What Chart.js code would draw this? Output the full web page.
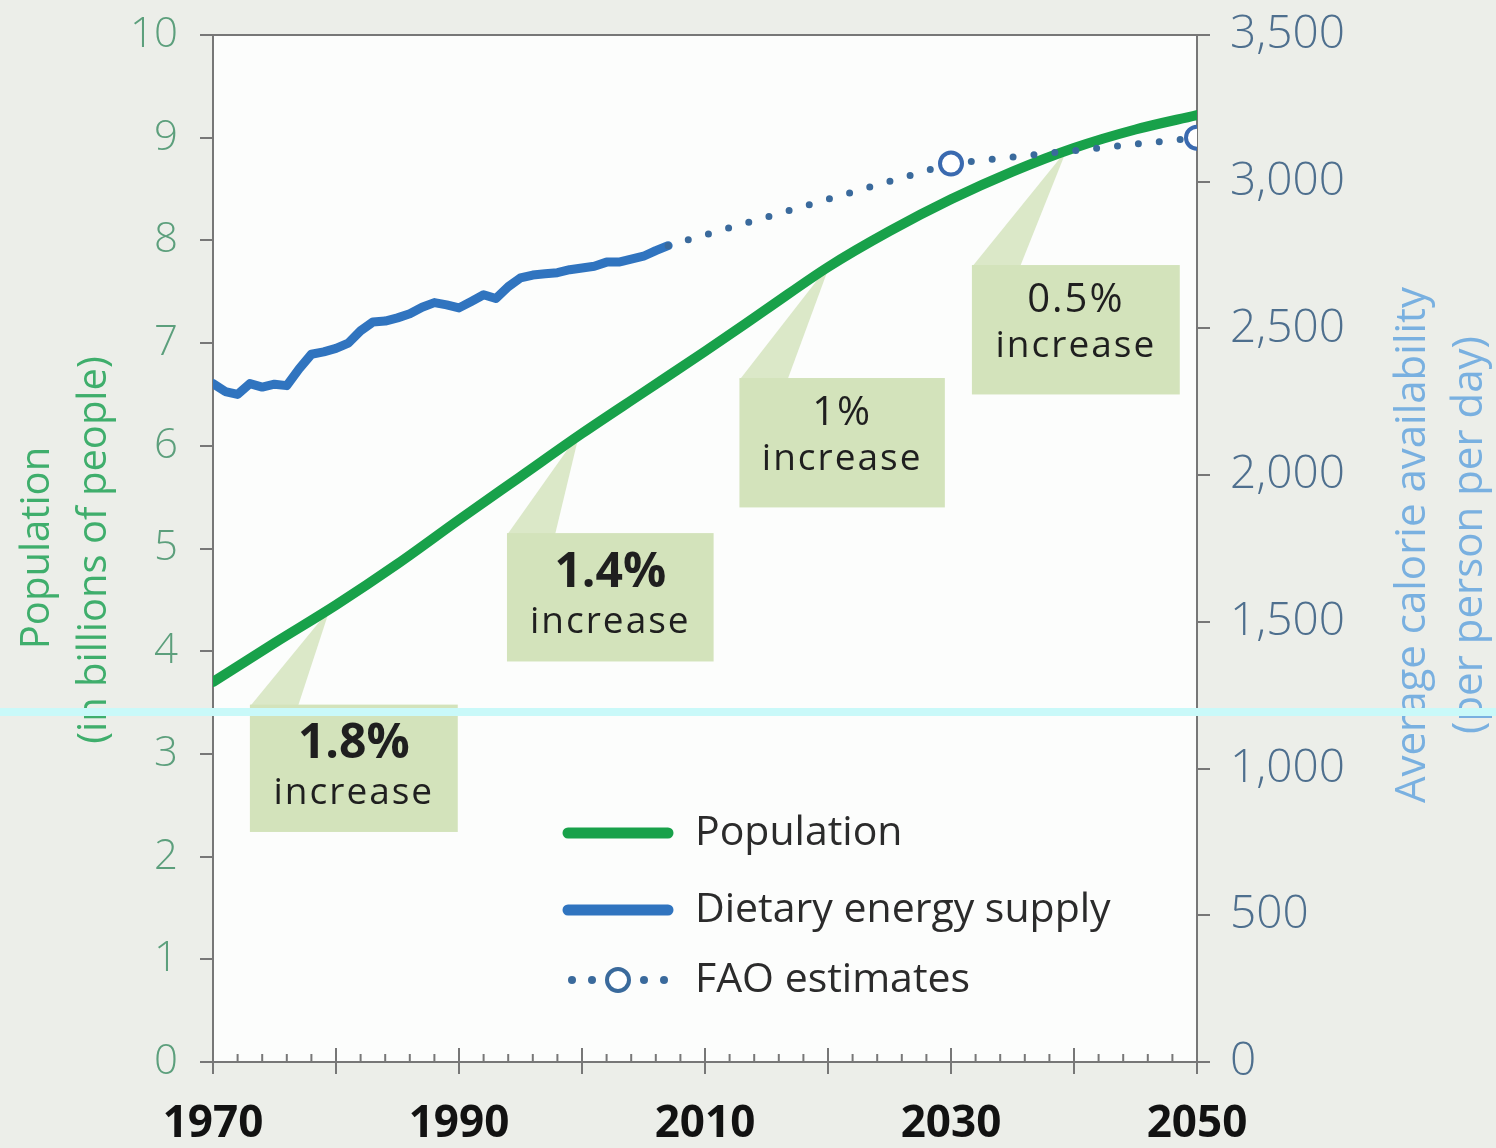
<!DOCTYPE html>
<html><head><meta charset="utf-8">
<script src="https://cdn.jsdelivr.net/npm/chart.js@4.4.1/dist/chart.umd.min.js"></script>
<style>
html,body{margin:0;padding:0;background:#eceee9;}
#wrap{position:relative;width:1496px;height:1148px;overflow:hidden;}
canvas{display:block;}
#band{position:absolute;left:0;top:708px;width:1496px;height:8px;background:#c9f9f9;}
</style></head><body>
<div id="wrap"><canvas id="c" width="1496" height="1148" style="width:1496px;height:1148px"></canvas><div id="band"></div></div>
<script>
// ---- data ----
const popYears  = [1970,1975,1980,1985,1990,1995,2000,2005,2010,2015,2020,2025,2030,2035,2040,2045,2050];
const popValues = [3.70,4.08,4.45,4.85,5.28,5.70,6.12,6.52,6.92,7.33,7.74,8.09,8.40,8.67,8.90,9.08,9.22];

const desYears  = [1970,1971,1972,1973,1974,1975,1976,1977,1978,1979,1980,1981,1982,1983,1984,1985,1986,1987,1988,1989,1990,1991,1992,1993,1994,1995,1996,1997,1998,1999,2000,2001,2002,2003,2004,2005,2006,2007];
const desValues = [2312,2285,2275,2312,2300,2310,2305,2362,2412,2420,2432,2450,2492,2522,2525,2536,2550,2572,2588,2580,2570,2592,2615,2602,2642,2672,2682,2686,2690,2700,2706,2712,2726,2726,2736,2746,2765,2782];

const faoYears  = [2007,2030,2050];
const faoValues = [2782,3062,3150];

const xTickLabels = [1970,1990,2010,2030,2050];

const FONT = "'Open Sans','DejaVu Sans',sans-serif";

const callouts = [
  {pct:'1.8%', bold:true,  x0:1973.0, x1:1989.9, yTop:3.48, yBot:2.24, tipX:1979.5, tipY:4.41},
  {pct:'1.4%', bold:true,  x0:1993.9, x1:2010.7, yTop:5.15, yBot:3.90, tipX:1999.8, tipY:6.13},
  {pct:'1%',   bold:false, x0:2012.8, x1:2029.5, yTop:6.66, yBot:5.40, tipX:2020.2, tipY:7.78},
  {pct:'0.5%', bold:false, x0:2031.7, x1:2048.6, yTop:7.76, yBot:6.50, tipX:2039.4, tipY:8.88}
];

const GREEN = '#18a14a';
const BLUE  = '#3074bf';
const FAOC  = '#3a6a9c';

const decor = {
  id:'decor',
  beforeDraw(chart){
    const {ctx, chartArea:a} = chart;
    ctx.save();
    ctx.fillStyle = '#eceee9';
    ctx.fillRect(0,0,chart.width,chart.height);
    ctx.fillStyle = '#fcfdfc';
    ctx.fillRect(a.left,a.top,a.right-a.left,a.bottom-a.top);
    ctx.restore();
  },
  beforeDatasetsDraw(chart){
    const {ctx, scales:{x,y}} = chart;
    ctx.save();
    callouts.forEach(c=>{
      const L=x.getPixelForValue(c.x0), R=x.getPixelForValue(c.x1);
      const T=y.getPixelForValue(c.yTop), B=y.getPixelForValue(c.yBot);
      const tx=x.getPixelForValue(c.tipX), ty=y.getPixelForValue(c.tipY);
      ctx.fillStyle='#dbe8c8';
      ctx.beginPath();
      ctx.moveTo(L,T+2); ctx.lineTo(L+48,T+2); ctx.lineTo(tx,ty); ctx.closePath(); ctx.fill();
      ctx.fillStyle='#d3e3bb';
      ctx.fillRect(L,T,R-L,B-T);
      const cx=(L+R)/2;
      ctx.fillStyle='#1f1f1f';
      ctx.textAlign='center'; ctx.textBaseline='middle';
      ctx.font=(c.bold?'700 48px ':'400 40px ')+FONT;
      ctx.letterSpacing = c.bold?'0px':'2px';
      ctx.fillText(c.pct,cx,T+(c.bold?40:36));
      ctx.font='400 37px '+FONT;
      ctx.letterSpacing='2px';
      ctx.fillText('increase',cx,T+(c.bold?89:81));
      ctx.letterSpacing='0px';
    });
    ctx.restore();
  },
  afterDraw(chart){
    const {ctx, chartArea:a, scales:{x}} = chart;
    ctx.save();
    // top frame line
    ctx.strokeStyle='#777'; ctx.lineWidth=2;
    ctx.beginPath(); ctx.moveTo(a.left-13,a.top); ctx.lineTo(a.right+13,a.top); ctx.stroke();
    // x ticks: minor every 2 years, major every 10
    for(let yr=1970; yr<=2050; yr+=2){
      const px=x.getPixelForValue(yr);
      const major = yr%10===0;
      ctx.beginPath();
      ctx.moveTo(px, a.bottom+(major?12:0));
      ctx.lineTo(px, a.bottom-(major?14:8));
      ctx.stroke();
    }
    // axis titles
    ctx.textAlign='center'; ctx.textBaseline='middle';
    ctx.font='400 40px '+FONT;
    ctx.fillStyle='#3fae6c';
    ctx.save(); ctx.translate(38,548); ctx.rotate(-Math.PI/2); ctx.fillText('Population',0,0); ctx.restore();
    ctx.save(); ctx.translate(95,550); ctx.rotate(-Math.PI/2); ctx.fillText('(in billions of people)',0,0); ctx.restore();
    ctx.fillStyle='#79b0e0';
    ctx.font='400 42px '+FONT;
    ctx.save(); ctx.translate(1413,545); ctx.rotate(-Math.PI/2); ctx.fillText('Average calorie availability',0,0); ctx.restore();
    ctx.save(); ctx.translate(1470,535); ctx.rotate(-Math.PI/2); ctx.fillText('(per person per day)',0,0); ctx.restore();
    // legend
    const ds=chart.data.datasets;
    const lx0=568, lx1=668, tx=695;
    const rows=[833,910,980];
    ctx.textAlign='left';
    ctx.font='400 41px '+FONT;
    ctx.lineCap='round';
    ctx.strokeStyle=GREEN; ctx.lineWidth=11;
    ctx.beginPath(); ctx.moveTo(lx0,rows[0]); ctx.lineTo(lx1,rows[0]); ctx.stroke();
    ctx.strokeStyle=BLUE;
    ctx.beginPath(); ctx.moveTo(lx0,rows[1]); ctx.lineTo(lx1,rows[1]); ctx.stroke();
    ctx.fillStyle=FAOC;
    [572,592,644,664].forEach(d=>{ctx.beginPath();ctx.arc(d,rows[2],4,0,Math.PI*2);ctx.fill();});
    ctx.strokeStyle=FAOC; ctx.lineWidth=4; ctx.fillStyle='#fff';
    ctx.beginPath(); ctx.arc(618,rows[2],11,0,Math.PI*2); ctx.fill(); ctx.stroke();
    ctx.fillStyle='#2b2b2b';
    ctx.fillText(ds[0].label,tx,rows[0]);
    ctx.fillText(ds[1].label,tx,rows[1]);
    ctx.fillText(ds[2].label,tx,rows[2]);
    ctx.restore();
  }
};

const toXY=(xs,ys)=>xs.map((v,i)=>({x:v,y:ys[i]}));

new Chart(document.getElementById('c'),{
  type:'line',
  data:{datasets:[
    {label:'Population', data:toXY(popYears,popValues), yAxisID:'y', borderColor:GREEN, borderWidth:10, pointRadius:0, tension:0.35, cubicInterpolationMode:'monotone', borderCapStyle:'round', order:1},
    {label:'Dietary energy supply', data:toXY(desYears,desValues), yAxisID:'y2', borderColor:BLUE, borderWidth:9, pointRadius:0, tension:0, borderCapStyle:'round', borderJoinStyle:'round', order:3},
    {label:'FAO estimates', data:toXY(faoYears,faoValues), yAxisID:'y2', borderColor:FAOC, borderWidth:7, borderDash:[0,21], borderCapStyle:'round',
      pointRadius:[0,11,11], pointBorderWidth:4, pointBackgroundColor:'#ffffff', pointBorderColor:'#3a6ab0', order:0}
  ]},
  options:{
    responsive:false, animation:false, devicePixelRatio:1,
    layout:{padding:{top:35,left:0,right:0,bottom:0}},
    plugins:{legend:{display:false}, tooltip:{enabled:false}},
    scales:{
      x:{type:'linear', min:1970, max:2050, position:'bottom',
        afterBuildTicks(s){s.ticks=xTickLabels.map(v=>({value:v}));},
        afterFit(s){s.height=86; s.paddingLeft=0; s.paddingRight=0;},
        ticks:{color:'#121212', font:{family:FONT, size:44, weight:'700'}, padding:36, maxRotation:0, autoSkip:false, callback:v=>String(v)},
        grid:{display:false, drawTicks:false}, border:{display:true, color:'#777', width:2}},
      y:{position:'left', min:0, max:10,
        afterFit(s){s.width=213; s.paddingTop=0; s.paddingBottom=0;},
        ticks:{stepSize:1, color:'#5c9f7c', font:{family:FONT, size:42, weight:'300'}, padding:22},
        grid:{drawOnChartArea:false, drawTicks:true, tickLength:13, color:'#777', lineWidth:2},
        border:{display:true, color:'#777', width:2}},
      y2:{position:'right', min:0, max:3500,
        afterFit(s){s.width=299; s.paddingTop=0; s.paddingBottom=0;},
        ticks:{stepSize:500, color:'#4e6f8e', font:{family:FONT, size:46, weight:'300'}, padding:20, callback:v=>v.toLocaleString('en-US')},
        grid:{drawOnChartArea:false, drawTicks:true, tickLength:13, color:'#777', lineWidth:2},
        border:{display:true, color:'#777', width:2}}
    }
  },
  plugins:[decor]
});
</script>
</body></html>
